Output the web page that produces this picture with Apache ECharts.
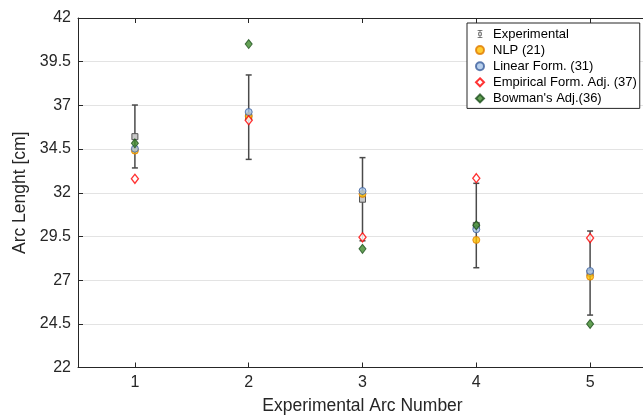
<!DOCTYPE html>
<html><head><meta charset="utf-8">
<script src="https://cdn.jsdelivr.net/npm/echarts@6/dist/echarts.min.js"></script>
<style>html,body{margin:0;padding:0;background:#fff}#c{width:643px;height:416px}</style>
</head><body><div id="c"></div>
<script>
const arcs = [1, 2, 3, 4, 5];
const expMean = [35.21, 36.33, 31.63, 30.13, 27.41];
const expLow = [33.42, 33.91, 29.25, 27.71, 25.00];
const expHigh = [37.02, 38.74, 34.01, 32.54, 29.81];
const nlp = [34.41, 36.39, 31.93, 29.30, 27.20];
const linear = [34.52, 36.62, 32.10, 29.91, 27.52];
const empirical = [32.80, 36.15, 29.45, 32.83, 29.41];
const bowman = [34.83, 40.51, 28.79, 30.14, 24.49];
const yTicks = [22, 24.5, 27, 29.5, 32, 34.5, 37, 39.5, 42];
const names = ['Experimental', 'NLP (21)', 'Linear Form. (31)', 'Empirical Form. Adj. (37)', "Bowman's Adj.(36)"];

const FONT = 'Liberation Sans, Arial, sans-serif';
const chart = echarts.init(document.getElementById('c'), null, {renderer: 'canvas'});
const pair = arr => arcs.map((a, i) => [a, arr[i]]);

const expIcon = 'path://M2,0 H8 V1 H5.5 V3 H7.5 V7 H5.5 V9 H8 V10 H2 V9 H4.5 V7 H2.5 V3 H4.5 V1 H2 Z M3.3,4.2 V5.8 H6.7 V4.2 Z';

const option = {
  animation: false,
  backgroundColor: '#fff',
  grid: {left: 78, right: -4, top: 18, bottom: 48.5, containLabel: false, outerBoundsMode: 'none'},
  legend: {
    orient: 'vertical', left: 467, top: 23,
    backgroundColor: '#fff', borderColor: '#262626', borderWidth: 1,
    padding: [4, 3, 3, 8], itemGap: 2.1, itemWidth: 8, itemHeight: 8,
    textStyle: {fontFamily: FONT, fontSize: 13, lineHeight: 14, color: '#000', padding: [0, 0, 0, 4]},
    data: [
      {name: names[0], icon: expIcon, itemStyle: {color: '#555'}},
      names[1], names[2], names[3], names[4]
    ]
  },
  xAxis: [{
    type: 'value', min: 0.5, max: 5.5,
    name: 'Experimental Arc Number', nameLocation: 'middle', nameGap: 30,
    nameTextStyle: {fontFamily: FONT, fontSize: 17.5, color: '#262626'},
    axisLine: {show: true, lineStyle: {color: '#262626', width: 1}},
    axisTick: {show: true, inside: true, length: 5, customValues: arcs, lineStyle: {color: '#262626'}},
    axisLabel: {fontFamily: FONT, fontSize: 16, color: '#262626', margin: 7, customValues: arcs},
    splitLine: {show: false}
  }, {
    type: 'value', position: 'top', min: 0.5, max: 5.5,
    axisLine: {show: true, onZero: false, lineStyle: {color: '#262626', width: 1}},
    axisTick: {show: true, inside: true, length: 5, customValues: arcs, lineStyle: {color: '#262626'}},
    axisLabel: {show: false}, splitLine: {show: false}
  }],
  yAxis: {
    type: 'value', min: 22, max: 42, interval: 2.5,
    name: 'Arc Lenght [cm]', nameLocation: 'middle', nameGap: 45, nameRotate: 90,
    nameTextStyle: {fontFamily: FONT, fontSize: 17.5, color: '#262626'},
    axisLine: {show: true, lineStyle: {color: '#262626', width: 1}},
    axisTick: {show: true, inside: true, length: 5, lineStyle: {color: '#262626'}},
    axisLabel: {fontFamily: FONT, fontSize: 16, color: '#262626', margin: 7,
      formatter: v => (yTicks.indexOf(v) >= 0 ? String(v) : '')},
    splitLine: {show: true, lineStyle: {color: '#e3e3e3', width: 1}}
  },
  series: [
    {
      name: names[0], type: 'custom', z: 2,
      data: arcs.map((a, i) => [a, expMean[i], expLow[i], expHigh[i]]),
      itemStyle: {color: '#555'},
      renderItem: (params, api) => {
        const c = api.coord([api.value(0), api.value(1)]);
        const lo = api.coord([api.value(0), api.value(2)]);
        const hi = api.coord([api.value(0), api.value(3)]);
        const cap = 3;
        const ls = {stroke: '#4a4a4a', lineWidth: 1.5};
        return {type: 'group', children: [
          {type: 'line', shape: {x1: c[0], y1: lo[1], x2: c[0], y2: hi[1]}, style: ls},
          {type: 'line', shape: {x1: c[0] - cap, y1: lo[1], x2: c[0] + cap, y2: lo[1]}, style: ls},
          {type: 'line', shape: {x1: c[0] - cap, y1: hi[1], x2: c[0] + cap, y2: hi[1]}, style: ls},
          {type: 'rect', shape: {x: c[0] - 3, y: c[1] - 3, width: 6, height: 6},
            style: {fill: '#c8c8c8', stroke: '#555', lineWidth: 1}}
        ]};
      }
    },
    {
      name: names[1], type: 'scatter', data: pair(nlp), symbol: 'circle', symbolSize: 7, z: 3,
      itemStyle: {color: '#ffc000', borderColor: '#e07b00', borderWidth: 1}
    },
    {
      name: names[2], type: 'scatter', data: pair(linear), symbol: 'circle', symbolSize: 7, z: 4,
      itemStyle: {color: '#a6c4e8', borderColor: '#3b5e9c', borderWidth: 1}
    },
    {
      name: names[3], type: 'scatter', data: pair(empirical), symbol: 'diamond', symbolSize: [7, 9], z: 5,
      itemStyle: {color: '#ffffff', borderColor: '#ff0000', borderWidth: 1.4}
    },
    {
      name: names[4], type: 'scatter', data: pair(bowman), symbol: 'diamond', symbolSize: [7, 9], z: 6,
      itemStyle: {color: '#3e8a2c', borderColor: '#1c4f1c', borderWidth: 1}
    }
  ]
};
chart.setOption(option);
</script></body></html>
